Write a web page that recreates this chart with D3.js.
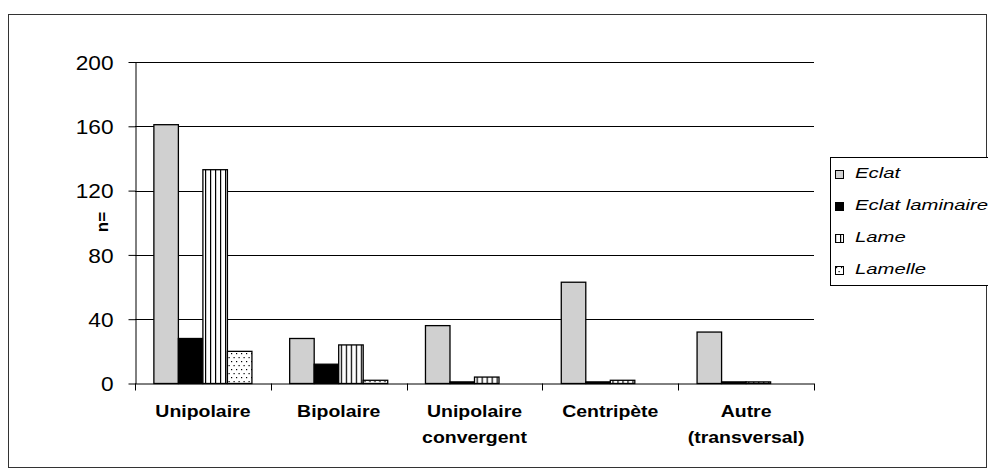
<!DOCTYPE html>
<html>
<head>
<meta charset="utf-8">
<script src="https://cdn.jsdelivr.net/npm/d3@7"></script>
<style>
  html, body { margin: 0; padding: 0; background: #fff; }
  svg { display: block; font-family: "Liberation Sans", Arial, sans-serif; }
</style>
</head>
<body>
<svg id="chart" width="988" height="469"></svg>
<script>
// Débitage: nombre de pièces par type de débitage et par catégorie
const categories = [["Unipolaire"], ["Bipolaire"], ["Unipolaire", "convergent"], ["Centripète"], ["Autre", "(transversal)"]];
const seriesNames = ["Eclat", "Eclat laminaire", "Lame", "Lamelle"];
const eclat          = [161, 28, 36, 63, 32];
const eclatLaminaire = [28, 12, 1, 1, 1];
const lame           = [133, 24, 4, 2, 1];
const lamelle        = [20, 2, 0, 0, 0];
const yTicks = [0, 40, 80, 120, 160, 200];
const yLabel = "n=";

const seriesValues = [eclat, eclatLaminaire, lame, lamelle];
const catKeys = categories.map(c => c.join(" "));

const svg = d3.select("#chart");
const plot = { left: 135, right: 814, top: 62, bottom: 383.5 };

// Fill patterns for the hatched series
const defs = svg.append("defs");
const stripes = defs.append("pattern").attr("id", "pat-lame")
  .attr("patternUnits", "userSpaceOnUse").attr("width", 5).attr("height", 5);
stripes.append("rect").attr("width", 5).attr("height", 5).attr("fill", "#fff");
stripes.append("rect").attr("x", 0).attr("width", 1.2).attr("height", 5).attr("fill", "#000");

const dots = defs.append("pattern").attr("id", "pat-lamelle")
  .attr("patternUnits", "userSpaceOnUse").attr("width", 5).attr("height", 8);
dots.append("rect").attr("width", 5).attr("height", 8).attr("fill", "#fff");
dots.append("rect").attr("x", 1).attr("y", 1).attr("width", 1.2).attr("height", 1.2).attr("fill", "#000");
dots.append("rect").attr("x", 3.5).attr("y", 5).attr("width", 1.2).attr("height", 1.2).attr("fill", "#000");

const fills = ["#d0d0d0", "#000000", "url(#pat-lame)", "url(#pat-lamelle)"];

// Outer frame
svg.append("rect").attr("x", 8.5).attr("y", 14.5).attr("width", 978).attr("height", 453)
  .attr("fill", "none").attr("stroke", "#333").attr("stroke-width", 1);

const x0 = d3.scaleBand().domain(catKeys).range([plot.left, plot.right]).paddingInner(0).paddingOuter(0);
const x1 = d3.scaleBand().domain(seriesNames).range([0, x0.bandwidth()]).paddingInner(0).paddingOuter(0.77);
const y = d3.scaleLinear().domain([0, 200]).range([plot.bottom, plot.top]);

// Gridlines
svg.append("g").selectAll("line").data(yTicks.filter(t => t > 0)).join("line")
  .attr("x1", plot.left).attr("x2", plot.right)
  .attr("y1", d => Math.round(y(d)) + 0.5).attr("y2", d => Math.round(y(d)) + 0.5)
  .attr("stroke", "#000").attr("stroke-width", 1);

// Bars
const groups = svg.append("g").selectAll("g").data(catKeys).join("g")
  .attr("transform", d => `translate(${x0(d)},0)`);
groups.selectAll("rect")
  .data((d, i) => seriesNames.map((s, j) => ({ s, j, v: seriesValues[j][i] })).filter(e => e.v > 0))
  .join("rect")
  .attr("x", d => x1(d.s))
  .attr("y", d => y(d.v))
  .attr("width", x1.bandwidth())
  .attr("height", d => y(0) - y(d.v))
  .attr("fill", d => fills[d.j])
  .attr("stroke", "#000").attr("stroke-width", 1.3);

// Y axis
const yAxis = svg.append("g").attr("transform", `translate(${plot.left + 0.5},0)`)
  .call(d3.axisLeft(y).tickValues(yTicks).tickSize(7).tickSizeOuter(0));
yAxis.select(".domain").attr("stroke", "#000");
yAxis.selectAll(".tick line").attr("stroke", "#000");
yAxis.selectAll(".tick text")
  .attr("x", null).attr("dy", null)
  .attr("dominant-baseline", "central")
  .attr("transform", "translate(-22,0) scale(1.08,1)")
  .attr("font-size", 21).attr("fill", "#000")
  .attr("font-family", "'Liberation Sans', Arial, sans-serif");

// X axis line and boundary ticks
svg.append("line").attr("x1", plot.left).attr("x2", plot.right)
  .attr("y1", plot.bottom + 0.5).attr("y2", plot.bottom + 0.5).attr("stroke", "#000");
const bounds = catKeys.map(k => x0(k)).concat([plot.right]);
svg.append("g").selectAll("line").data(bounds).join("line")
  .attr("x1", d => Math.round(d) + 0.5).attr("x2", d => Math.round(d) + 0.5)
  .attr("y1", plot.bottom).attr("y2", plot.bottom + 7).attr("stroke", "#000");

// Category labels
const catLabels = svg.append("g").selectAll("g").data(categories).join("g")
  .attr("transform", (d, i) => `translate(${x0(catKeys[i]) + x0.bandwidth() / 2},0)`);
catLabels.selectAll("text").data(d => d).join("text")
  .attr("transform", (d, i) => `translate(0,${417 + i * 26}) scale(1.18,1)`)
  .attr("text-anchor", "middle").attr("font-weight", "bold").attr("font-size", 16.5)
  .attr("fill", "#000").text(d => d);

// Y axis title
svg.append("text")
  .attr("transform", "translate(108,222) rotate(-90)")
  .attr("text-anchor", "middle").attr("font-weight", "bold").attr("font-size", 17)
  .attr("fill", "#000").text(yLabel);

// Legend
const legend = svg.append("g");
legend.append("rect").attr("x", 830.5).attr("y", 157.5).attr("width", 170).attr("height", 128)
  .attr("fill", "#fff").attr("stroke", "#000").attr("stroke-width", 1);
const items = legend.selectAll("g.item").data(seriesNames).join("g").attr("class", "item")
  .attr("transform", (d, i) => `translate(0,${178 + i * 32})`);
items.append("rect").attr("x", 835.5).attr("y", -7.5).attr("width", 8).attr("height", 8)
  .attr("fill", (d, i) => fills[i]).attr("stroke", "#000").attr("stroke-width", 1);
items.append("text")
  .attr("transform", "translate(855,0) scale(1.4,1)")
  .attr("font-style", "italic").attr("font-size", 14.5).attr("fill", "#000")
  .text(d => d);
</script>
</body>
</html>
